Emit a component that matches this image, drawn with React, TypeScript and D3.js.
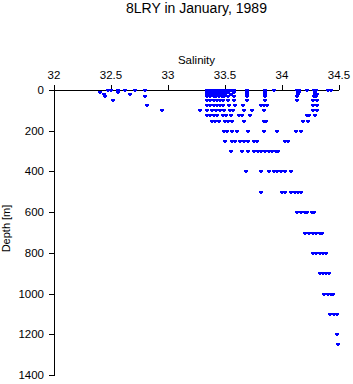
import React from "react";
import * as d3 from "d3";

const title = "8LRY in January, 1989";
const xLabel = "Salinity";
const yLabel = "Depth [m]";
const xTicks = [32, 32.5, 33, 33.5, 34, 34.5];
const yTicks = [0, 200, 400, 600, 800, 1000, 1200, 1400];

const depthLevels = [0, 10, 20, 30, 50, 75, 100, 125, 150, 200, 250, 300, 400, 500, 600, 700, 800, 900, 1000, 1100, 1200, 1250];

const sal0 = [32.47, 32.5, 32.56, 32.62, 32.71, 32.8, 33.34, 33.37, 33.4, 33.42, 33.45, 33.47, 33.49, 33.52, 33.55, 33.58, 33.69, 33.85, 33.93, 34.13, 34.15, 34.22, 34.28, 34.3, 34.4, 34.43];
const sal10 = [32.4, 32.56, 33.34, 33.37, 33.4, 33.42, 33.45, 33.47, 33.49, 33.53, 33.58, 33.69, 33.85, 34.14, 34.15, 34.29];
const sal20 = [32.44, 32.67, 33.34, 33.37, 33.4, 33.42, 33.45, 33.47, 33.5, 33.55, 33.69, 33.85, 34.14, 34.29, 34.31];
const sal30 = [32.45, 32.8, 33.34, 33.37, 33.4, 33.42, 33.45, 33.47, 33.49, 33.53, 33.58, 33.69, 33.85, 34.13, 34.28, 34.3];
const sal50 = [32.52, 33.34, 33.37, 33.4, 33.43, 33.46, 33.48, 33.53, 33.58, 33.69, 33.855, 34.13, 34.27, 34.31];
const sal75 = [32.82, 33.34, 33.37, 33.4, 33.43, 33.46, 33.48, 33.535, 33.585, 33.66, 33.815, 33.84, 33.87, 34.27, 34.31];
const sal100 = [32.95, 33.285, 33.345, 33.385, 33.42, 33.46, 33.487, 33.54, 33.57, 33.67, 33.74, 33.84, 34.27, 34.31];
const sal125 = [33.34, 33.37, 33.4, 33.43, 33.48, 33.51, 33.55, 33.62, 33.65, 33.72, 34.215, 34.24, 34.29];
const sal150 = [33.39, 33.41, 33.45, 33.5, 33.53, 33.56, 33.67, 33.84, 33.86, 34.18, 34.23];
const sal200 = [33.49, 33.52, 33.565, 33.605, 33.705, 33.84, 33.955, 34.12, 34.17];
const sal250 = [33.5, 33.56, 33.59, 33.635, 33.665, 33.7, 33.75, 33.78, 34.03, 34.05];
const sal300 = [33.55, 33.645, 33.7, 33.755, 33.79, 33.82, 33.855, 33.885, 33.915, 33.945, 33.965];
const sal400 = [33.68, 33.815, 33.885, 33.93, 33.96, 33.99, 34.03, 34.08];
const sal500 = [33.82, 34.0, 34.03, 34.08, 34.11, 34.14, 34.17];
const sal600 = [34.135, 34.165, 34.2, 34.22, 34.26, 34.285];
const sal700 = [34.205, 34.235, 34.27, 34.3, 34.33, 34.355];
const sal800 = [34.27, 34.3, 34.33, 34.36, 34.39];
const sal900 = [34.33, 34.36, 34.39, 34.41];
const sal1000 = [34.37, 34.4, 34.43, 34.45];
const sal1100 = [34.425, 34.455, 34.48];
const sal1200 = [34.48];
const sal1250 = [34.49];

const salinityByLevel = [sal0, sal10, sal20, sal30, sal50, sal75, sal100, sal125, sal150, sal200, sal250, sal300, sal400, sal500, sal600, sal700, sal800, sal900, sal1000, sal1100, sal1200, sal1250];

const W = 353;
const H = 384;
const FONT = "'Liberation Sans', Arial, Helvetica, sans-serif";

export default function App() {
  const x = d3.scaleLinear().domain([32, 34.5]).range([54, 339]);
  const y = d3.scaleLinear().domain([0, 1400]).range([90, 375]);

  const points: { s: number; d: number }[] = [];
  depthLevels.forEach((d, i) => {
    salinityByLevel[i].forEach((s) => points.push({ s, d }));
  });

  const x0 = x.range()[0];
  const x1 = x.range()[1];
  const y0 = y.range()[0];
  const y1 = y.range()[1];

  return (
    <svg
      width={W}
      height={H}
      style={{ position: "absolute", left: 0, top: 0, background: "#fff" }}
      fontFamily={FONT}
    >
      <rect x={0} y={0} width={W} height={H} fill="#fff" />
      <text x={(x0 + x1) / 2} y={13} textAnchor="middle" fontSize={14} fill="#000">
        {title}
      </text>
      <text x={(x0 + x1) / 2} y={64} textAnchor="middle" fontSize={11.5} fill="#000">
        {xLabel}
      </text>
      <text
        transform={`translate(10,${(y0 + y1) / 2 - 4}) rotate(-90)`}
        textAnchor="middle"
        fontSize={11}
        fill="#000"
      >
        {yLabel}
      </text>

      <g shapeRendering="crispEdges" stroke="#000" strokeWidth={1}>
        <line x1={x0} x2={x1} y1={y0 + 0.5} y2={y0 + 0.5} />
        <line x1={x0 + 0.5} x2={x0 + 0.5} y1={y0} y2={y1 + 0.5} />
        {xTicks.map((t) => (
          <line key={"xt" + t} x1={Math.round(x(t)) + 0.5} x2={Math.round(x(t)) + 0.5} y1={y0 - 5} y2={y0} />
        ))}
        {yTicks.map((t) => (
          <line key={"yt" + t} x1={x0 - 5} x2={x0} y1={Math.round(y(t)) + 0.5} y2={Math.round(y(t)) + 0.5} />
        ))}
      </g>
      {xTicks.map((t) => (
        <text key={"xl" + t} x={x(t)} y={79} textAnchor="middle" fontSize={11.5} fill="#000">
          {String(t)}
        </text>
      ))}
      {yTicks.map((t) => (
        <text key={"yl" + t} x={44} y={y(t) + 4} textAnchor="end" fontSize={11.5} fill="#000">
          {String(t)}
        </text>
      ))}

      <g fill="#0000ff" shapeRendering="crispEdges">
        {points.map((p, i) => {
          const cx = Math.round(x(p.s));
          const cy = Math.round(y(p.d));
          return (
            <g key={i}>
              <rect x={cx - 2} y={cy - 1} width={4} height={2} />
              <rect x={cx - 1} y={cy - 1} width={2} height={3} />
            </g>
          );
        })}
      </g>
    </svg>
  );
}
